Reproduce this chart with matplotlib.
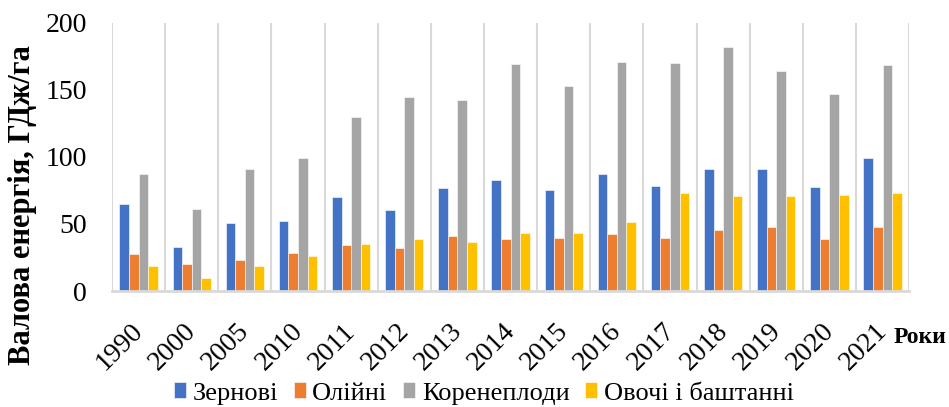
import matplotlib
matplotlib.use("Agg")
import matplotlib.pyplot as plt
import matplotlib.transforms as mtransforms
import numpy as np

years = ["1990", "2000", "2005", "2010", "2011", "2012", "2013", "2014",
         "2015", "2016", "2017", "2018", "2019", "2020", "2021"]
zernovi = [65, 32.6, 50.4, 51.9, 70.3, 60.4, 76.8, 82.7, 75.3, 87, 78.3, 91, 91, 77.5, 99.4]
oliini = [27.3, 20.1, 23.1, 28.3, 34.3, 31.8, 41, 39, 39.7, 42.5, 39.2, 45.2, 47.5, 39, 47.7]
koreneplody = [87, 60.9, 90.7, 99.1, 129.9, 144.4, 142.6, 169.5, 153, 170.7, 170, 181.9, 163.7, 146.6, 168.8]
ovochi = [18.9, 9.7, 18.6, 26.1, 35, 38.5, 36.5, 43, 43, 51.2, 73, 71, 70.8, 71.6, 73]

series_names = ["Зернові", "Олійні", "Коренеплоди", "Овочі і баштанні"]
colors = ["#4472C4", "#ED7D31", "#A5A5A5", "#FFC000"]

plt.rcParams['font.family'] = ['Liberation Serif', 'DejaVu Serif']

fig = plt.figure(figsize=(9.49, 4.07), dpi=100)
ax = fig.add_axes([0.118, 0.285, 0.840, 0.659])

x = np.arange(len(years))
w = 0.18
data = [zernovi, oliini, koreneplody, ovochi]
for i, (vals, name, c) in enumerate(zip(data, series_names, colors)):
    ax.bar(x + (i - 1.5) * w, vals, width=w, color=c, label=name,
           edgecolor='white', linewidth=0.4)

ax.set_xlim(-0.5, len(years) - 0.5)
ax.set_ylim(0, 200)
ax.set_yticks([0, 50, 100, 150, 200])
ax.set_xticks(x)
ax.set_xticklabels(years, rotation=45, ha='right', rotation_mode='anchor', fontsize=20)
ax.tick_params(axis='y', labelsize=20, length=0, pad=18)
ax.tick_params(axis='x', length=0, pad=20)
offset = mtransforms.ScaledTranslation(-8 / 100, 0, fig.dpi_scale_trans)
for lbl in ax.get_xticklabels():
    lbl.set_transform(lbl.get_transform() + offset)

for b in np.arange(-0.5, len(years), 1.0):
    ax.axvline(b, color='#D9D9D9', linewidth=1.5, zorder=0)

for s in ['top', 'right', 'left']:
    ax.spines[s].set_visible(False)
ax.spines['bottom'].set_color('#D9D9D9')
ax.spines['bottom'].set_linewidth(2)

ax.set_ylabel("Валова енергія, ГДж/га", fontsize=22, fontweight='bold')
ax.yaxis.set_label_coords(-0.094, 0.32)
fig.text(0.970, 0.170, "Роки", fontsize=17, fontweight='bold', ha='center', va='center')

fig.legend(loc='center', bbox_to_anchor=(0.51, 0.033), ncol=4, frameon=False,
           fontsize=19, handlelength=0.45, handleheight=0.55, handletextpad=0.25,
           columnspacing=0.6)

fig.savefig("out.png", dpi=100)
